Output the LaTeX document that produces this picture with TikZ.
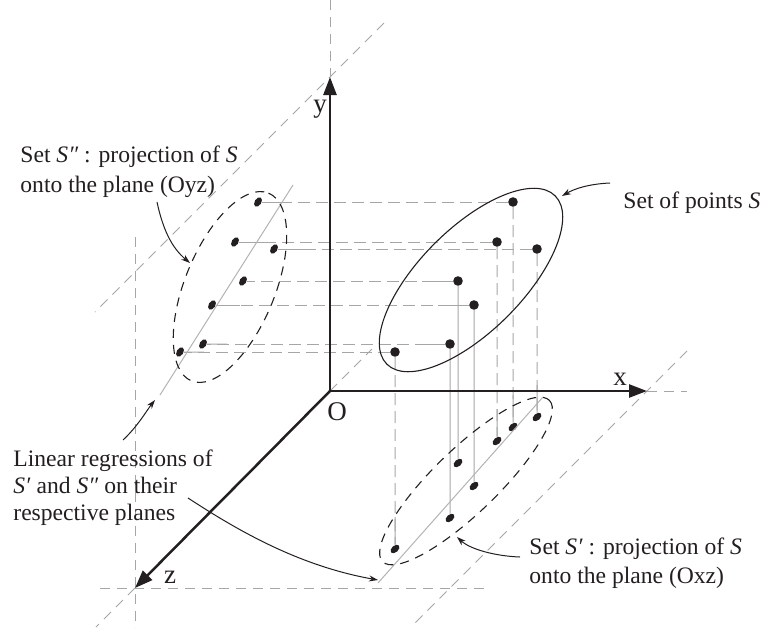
\documentclass[tikz,border=0pt]{standalone}
\usepackage{fontspec}
\setmainfont{Liberation Serif}
\usepackage{tikz}
\usetikzlibrary{arrows.meta,shapes.geometric}
\definecolor{ink}{HTML}{231F20}
\definecolor{guide}{HTML}{A6A6A6}
\definecolor{regrey}{HTML}{B3B3B3}

\begin{document}
\begin{tikzpicture}[x=0.5pt,y=-0.5pt,
 ax/.style={draw=ink,line width=1.25pt,-{Triangle[length=9pt,width=6.5pt]}},
 g/.style={draw=guide,line width=0.45pt,dash pattern=on 5pt off 3.5pt},
 pr/.style={draw=guide,line width=0.5pt,dash pattern=on 6pt off 3pt},
 st/.style={draw=guide,line width=0.5pt},
 reg/.style={draw=regrey,line width=0.5pt},
 cl/.style={draw=ink,line width=0.55pt,dash pattern=on 4.5pt off 3.5pt},
 pa/.style={draw=ink,line width=0.5pt,-{Stealth[length=4.5pt,width=3pt]}},
 sd/.style={circle,fill=ink,inner sep=0pt,minimum size=4.8pt},
 yd/.style={ellipse,fill=ink,inner sep=0pt,minimum width=5.2pt,minimum height=3.3pt,rotate=58},
 xd/.style={ellipse,fill=ink,inner sep=0pt,minimum width=5.2pt,minimum height=3.3pt,rotate=42},
 lb/.style={anchor=base west,align=left,inner sep=0pt,text=ink,font=\fontsize{11.8}{14.3}\selectfont},
 al/.style={anchor=base,inner sep=0pt,text=ink,font=\fontsize{13.5}{16}\selectfont}
]
\useasboundingbox (0,0) rectangle (761,633);
\coordinate (O) at (330,391);
\coordinate (yt) at (330,77); \coordinate (xt) at (647,391); \coordinate (zt) at (135,588);
\coordinate (g1) at (330,0); \coordinate (g2) at (384,23); \coordinate (g3) at (95,312);
\coordinate (g4) at (135,237); \coordinate (g5) at (135,628);
\coordinate (g6) at (100,588); \coordinate (g7) at (490,588); \coordinate (g8) at (96,627);
\coordinate (g9) at (687,391); \coordinate (g10) at (687,351); \coordinate (g11) at (412,626);
\coordinate (g12) at (372,349);
\draw[g] (g1)--(yt); \draw[g] (g2)--(g3); \draw[g] (g4)--(g5);
\draw[g] (g6)--(g7); \draw[g] (zt)--(g8); \draw[g] (xt)--(g9);
\draw[g] (g10)--(g11); \draw[g] (O)--(g12);

\node[sd] (s1) at (513,202) {}; \node[sd] (s2) at (497,242) {}; \node[sd] (s3) at (537,249) {};
\node[sd] (s4) at (458,281) {}; \node[sd] (s5) at (474,305) {}; \node[sd] (s6) at (450,344) {};
\node[sd] (s7) at (395,352) {};
\node[yd] (p1) at (258,202) {}; \node[yd] (p2) at (235,242) {}; \node[yd] (p3) at (274,249) {};
\node[yd] (p4) at (243,281) {}; \node[yd] (p5) at (212,305) {}; \node[yd] (p6) at (203,344) {};
\node[yd] (p7) at (180,352) {};
\node[xd] (q1) at (513,427) {}; \node[xd] (q2) at (497,441) {}; \node[xd] (q3) at (537,417) {};
\node[xd] (q4) at (458,463) {}; \node[xd] (q5) at (474,486) {}; \node[xd] (q6) at (450,518) {};
\node[xd] (q7) at (395,549) {};

\draw[pr] (s1)--(p1); \draw[pr] (s2)--(p2); \draw[pr] (s3)--(p3); \draw[pr] (s4)--(p4);
\draw[pr] (s5)--(p5); \draw[pr] (s6)--(p6); \draw[pr] (s7)--(p7);
\draw[pr] (s1)--(q1); \draw[pr] (s2)--(q2); \draw[pr] (s3)--(q3); \draw[st] (s4)--(q4);
\draw[st] (s5)--(q5); \draw[st] (s6)--(q6); \draw[pr] (s7)--(q7);
\draw[st] (p1)--([xshift=16pt]p1.center); \draw[st] (p2)--([xshift=16pt]p2.center);
\draw[st] (p3)--([xshift=16pt]p3.center); \draw[st] (p5)--([xshift=14pt]p5.center);
\draw[st] (p6)--([xshift=12pt]p6.center); \draw[st] (p7)--([xshift=12pt]p7.center);
\draw[st] (s4)--([xshift=-18pt]s4.center); \draw[st] (s5)--([xshift=-18pt]s5.center);
\draw[st] (s6)--([xshift=-14pt]s6.center);
\draw[st] (q1)--([yshift=16pt]q1.center); \draw[st] (q2)--([yshift=16pt]q2.center);
\draw[st] (q3)--([yshift=16pt]q3.center); \draw[st] (q7)--([yshift=16pt]q7.center);

\coordinate (r1) at (293,185); \coordinate (r2) at (160,395);
\coordinate (r3) at (378,583); \coordinate (r4) at (543,397);
\draw[reg] (r1)--(r2); \draw[reg] (r3)--(r4);

\coordinate (cS) at (471,280); \coordinate (cYZ) at (230,287); \coordinate (cXZ) at (466,481);
\draw[ink,line width=0.55pt,rotate around={45:(cS)}] (cS) ellipse [x radius=119,y radius=51.5];
\draw[cl,rotate around={67.7:(cYZ)}] (cYZ) ellipse [x radius=101.5,y radius=45];
\draw[cl,rotate around={44:(cXZ)}] (cXZ) ellipse [x radius=116,y radius=32];

\draw[ax] (O)--(yt); \draw[ax] (O)--(xt); \draw[ax] (O)--(zt);
\node[al] (ly) at (320,112) {y}; \node[al] (lx) at (620,385) {x};
\node[al] (lz) at (170,583) {z}; \node[al] (lo) at (337,420) {O};

\node[lb,font=\fontsize{11.8}{15}\selectfont] (tYZ) at (20,192) {Set \textit{S″} : projection of \textit{S}\\onto the plane (Oyz)};
\node[lb] (tS) at (623,208) {Set of points \textit{S}};
\node[lb,font=\fontsize{11.8}{13.4}\selectfont] (tLR) at (13,520) {Linear regressions of\\\textit{S′} and \textit{S″} on their\\respective planes};
\node[lb,font=\fontsize{11.8}{14.2}\selectfont] (tXZ) at (529,583) {Set \textit{S′} : projection of \textit{S}\\onto the plane (Oxz)};

\coordinate (a1) at (157,202); \coordinate (e1) at (190,263);
\coordinate (a2) at (610,183); \coordinate (e2) at (562,196);
\coordinate (a3) at (123,440); \coordinate (e3) at (155,400);
\coordinate (a4) at (188,498); \coordinate (e4) at (378,580);
\coordinate (a5) at (520,557); \coordinate (e5) at (457,537);
\draw[pa] (a1) .. controls (163,230) and (172,248) .. (e1);
\draw[pa] (a2) .. controls (588,184) and (574,189) .. (e2);
\draw[pa] (a3) .. controls (138,426) and (147,410) .. (e3);
\draw[pa] (a4) .. controls (240,532) and (300,566) .. (e4);
\draw[pa] (a5) .. controls (494,556) and (470,549) .. (e5);
\end{tikzpicture}
\end{document}
